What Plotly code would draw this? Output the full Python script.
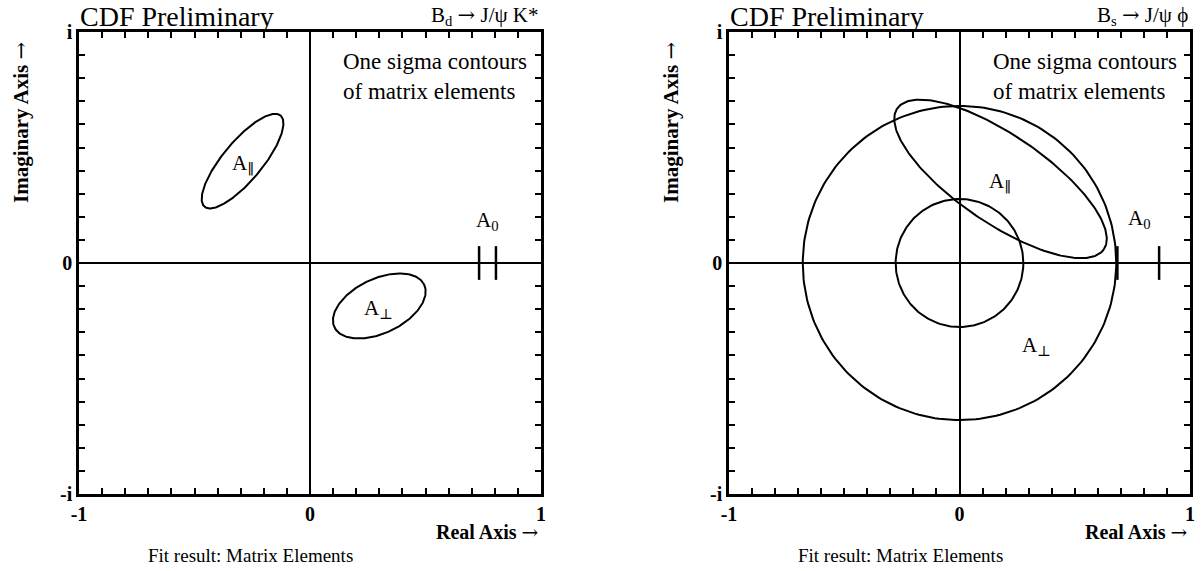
import numpy as np
import plotly.graph_objects as go

# one sigma contours (complex plane, units of |A|)
# B_d -> J/psi K*
bd_names = ['A∥', 'A⊥']
bd_center_re = [-0.292, 0.300]
bd_center_im = [0.441, -0.186]
bd_semi_major = [0.257, 0.215]
bd_semi_minor = [0.085, 0.118]
bd_angle_deg = [50.2, 25.4]
bd_a0_range = [0.732, 0.805]

# B_s -> J/psi phi (A_perp only has a magnitude -> ring between two radii)
bs_names = ['A∥', 'A⊥ inner', 'A⊥ outer']
bs_center_re = [0.178, 0.0, 0.0]
bs_center_im = [0.364, 0.0, 0.0]
bs_semi_major = [0.542, 0.277, 0.680]
bs_semi_minor = [0.191, 0.277, 0.680]
bs_angle_deg = [-34.2, 0.0, 0.0]
bs_a0_range = [0.685, 0.866]
a0_half_height = 0.073

SERIF = 'Liberation Serif, Times New Roman, Times, serif'
SYM = '<span style="font-family:DejaVu Serif">%s</span>'
ARROW = SYM % '→'

# label positions
bd_label_text = ['A<sub>' + SYM % '∥' + '</sub>', 'A<sub>' + SYM % '⊥' + '</sub>', 'A<sub>0</sub>']
bd_label_re = [-0.29, 0.295, 0.77]
bd_label_im = [0.43, -0.20, 0.18]
bs_label_text = ['A<sub>' + SYM % '∥' + '</sub>', 'A<sub>' + SYM % '⊥' + '</sub>', 'A<sub>0</sub>']
bs_label_re = [0.175, 0.335, 0.78]
bs_label_im = [0.35, -0.36, 0.19]

tick_vals = [round(-1 + 0.1 * i, 1) for i in range(21)]
x_tick_text = ['-1', '0', '1']
y_tick_text = ['-i', '0', 'i']

W, H = 1204, 571


def px(x):
    return x / W


def py(y):
    return 1 - y / H


def outline(cx, cy, a, b, ang):
    t = np.linspace(0, 2 * np.pi, 241)
    th = np.radians(ang)
    x = cx + a * np.cos(t) * np.cos(th) - b * np.sin(t) * np.sin(th)
    y = cy + a * np.cos(t) * np.sin(th) + b * np.sin(t) * np.cos(th)
    return x, y


def tick_text(labels):
    out = []
    for v in tick_vals:
        if v == -1:
            out.append('<b>' + labels[0] + '</b>')
        elif v == 0:
            out.append('<b>' + labels[1] + '</b>')
        elif v == 1:
            out.append('<b>' + labels[2] + '</b>')
        else:
            out.append('')
    return out


fig = go.Figure()

panels = [
    ('x', 'y', bd_names, bd_center_re, bd_center_im, bd_semi_major, bd_semi_minor, bd_angle_deg, bd_a0_range),
    ('x2', 'y2', bs_names, bs_center_re, bs_center_im, bs_semi_major, bs_semi_minor, bs_angle_deg, bs_a0_range),
]
for xa, ya, names, cre, cim, sa, sb, ang, a0 in panels:
    for i in range(len(names)):
        x, y = outline(cre[i], cim[i], sa[i], sb[i], ang[i])
        fig.add_trace(go.Scatter(x=x, y=y, mode='lines', name=names[i],
                                 line=dict(color='black', width=2),
                                 xaxis=xa, yaxis=ya, hoverinfo='skip'))
    for v in a0:
        fig.add_trace(go.Scatter(x=[v, v], y=[-a0_half_height, a0_half_height], mode='lines',
                                 name='A0', line=dict(color='black', width=2.5),
                                 xaxis=xa, yaxis=ya, hoverinfo='skip'))

axis_common = dict(range=[-1, 1], showgrid=False, zeroline=True, zerolinecolor='black',
                   zerolinewidth=2, showline=True, linecolor='black', linewidth=2.5,
                   mirror='ticks', ticks='inside', ticklen=6, tickwidth=1.5, tickcolor='black',
                   tickmode='array', tickvals=tick_vals, automargin=False,
                   tickfont=dict(family=SERIF, size=20, color='black'), fixedrange=True)

y_dom = [py(494), py(32)]
fig.update_layout(
    width=W, height=H, showlegend=False,
    paper_bgcolor='white', plot_bgcolor='white',
    margin=dict(l=0, r=0, t=0, b=0),
    xaxis=dict(domain=[px(79), px(541)], anchor='y', ticktext=tick_text(x_tick_text), **axis_common),
    yaxis=dict(domain=y_dom, anchor='x', ticktext=tick_text(y_tick_text), **axis_common),
    xaxis2=dict(domain=[px(729), px(1190)], anchor='y2', ticktext=tick_text(x_tick_text), **axis_common),
    yaxis2=dict(domain=y_dom, anchor='x2', ticktext=tick_text(y_tick_text), **axis_common),
)

ann = []
for xa, ya, labels, lre, lim, decay, x0, x1 in [
    ('x', 'y', bd_label_text, bd_label_re, bd_label_im, 'B<sub>d</sub> ' + ARROW + ' J/ψ K*', 79, 541),
    ('x2', 'y2', bs_label_text, bs_label_re, bs_label_im, 'B<sub>s</sub> ' + ARROW + ' J/ψ ϕ', 729, 1190),
]:
    for t, re_, im_ in zip(labels, lre, lim):
        ann.append(dict(x=re_, y=im_, xref=xa, yref=ya, text=t, showarrow=False,
                        font=dict(family=SERIF, size=21, color='black')))
    ann.append(dict(x=0.135, y=0.935, xref=xa, yref=ya, xanchor='left', yanchor='top', align='left',
                    text='One sigma contours<br>of matrix elements', showarrow=False,
                    font=dict(family=SERIF, size=23, color='black')))
    ann.append(dict(x=px(x0), y=py(16), xref='paper', yref='paper', xanchor='left',
                    yanchor='middle', text='CDF Preliminary', showarrow=False, borderpad=0,
                    font=dict(family=SERIF, size=28, color='black')))
    ann.append(dict(x=px(x1), y=py(16), xref='paper', yref='paper', xanchor='right',
                    yanchor='middle', text=decay, showarrow=False,
                    font=dict(family=SERIF, size=21, color='black')))
    ann.append(dict(x=px(x1), y=py(532), xref='paper', yref='paper', xanchor='right',
                    yanchor='middle', text='<b>Real Axis</b> ' + ARROW, showarrow=False,
                    font=dict(family=SERIF, size=20, color='black')))
    ann.append(dict(x=px(x0 - 58), y=py(123), xref='paper', yref='paper',
                    xanchor='center', yanchor='middle', textangle=-90,
                    text='<b>Imaginary Axis</b> ' + ARROW, showarrow=False,
                    font=dict(family=SERIF, size=21, color='black')))
    ann.append(dict(x=px(x0 + 171), y=py(555), xref='paper', yref='paper',
                    xanchor='center', yanchor='middle', text='Fit result: Matrix Elements',
                    showarrow=False, font=dict(family=SERIF, size=19, color='black')))
fig.update_layout(annotations=ann)

# drop the default page margin so the figure sits at the window corner
fig.write_html('out.html', config={'displayModeBar': False},
               post_script="document.body.style.margin='0';")
